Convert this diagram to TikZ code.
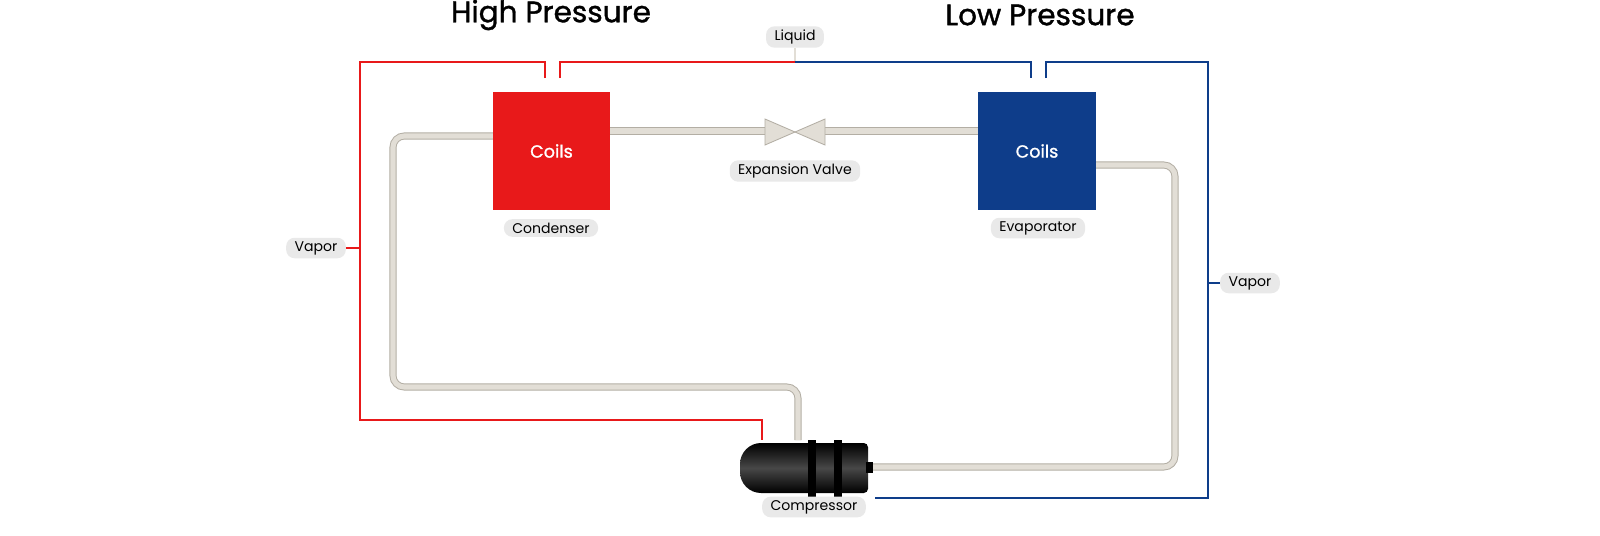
\documentclass[tikz,border=0pt]{standalone}
\usepackage{fontspec}
\setmainfont{Poppins}
\newfontfamily\medfont[FakeBold=1.2]{Poppins}
\definecolor{hred}{HTML}{E8191A}
\definecolor{lblue}{HTML}{0E3D8A}
\definecolor{pipein}{HTML}{E2DED6}
\definecolor{pipeout}{HTML}{B3AEA4}
\definecolor{pill}{HTML}{E9E9E9}
\begin{document}
\begin{tikzpicture}[x=0.025cm,y=-0.025cm,
  pipe/.style={double=pipein,draw=pipeout,line width=0.7pt,double distance=3.6pt,rounded corners=8},
  redl/.style={hred,line width=1.4pt},
  bluel/.style={lblue,line width=1.4pt},
  pilltag/.style={fill=pill,rounded corners=6pt,font=\fontsize{10}{12}\selectfont,inner xsep=6pt,inner ysep=2.5pt},
  coil/.style={minimum width=2.925cm,minimum height=2.95cm,inner sep=0pt,text=white,font=\medfont\fontsize{12.5}{14}\selectfont},
  title/.style={font=\medfont\fontsize{21}{24}\selectfont}]
\fill[white] (0,0) rectangle (1600,535);
\useasboundingbox (0,0) rectangle (1600,535);
% titles
\node[title] (th) at (551,15) {High Pressure};
\node[title] (tl) at (1040,15) {Low Pressure};
% pipes
\coordinate (cl) at (493,136);
\coordinate (cr) at (610,131);
\coordinate (el) at (978,131);
\coordinate (er) at (1096,165);
\coordinate (ct) at (798,440);
\coordinate (cpr) at (873,467);
\draw[pipe] (cl) -- (393,136) -- (393,387) -- (798,387) -- (ct);
\draw[pipe] (er) -- (1175,165) -- (1175,467) -- (cpr);
\draw[pipe] (cr) -- (765,131);
\draw[pipe] (825,131) -- (el);
% valve
\coordinate (valve) at (795,132);
\draw[pipeout,fill=pipein,line width=0.6pt] (765,119) -- (795,132) -- (765,145) -- cycle;
\draw[pipeout,fill=pipein,line width=0.6pt] (825,119) -- (795,132) -- (825,145) -- cycle;
% coils
\node[coil,fill=hred] (cond) at (551.5,151) {Coils};
\node[coil,fill=lblue] (evap) at (1037,151) {Coils};
% compressor
\shade[top color=black,bottom color=black,middle color=black!72!white,rounded corners=3pt]
  (868,443) -- (868,493) [rounded corners=15] -- (740,493) -- (740,443) [rounded corners=3pt] -- cycle;
\fill[black] (808,440) rectangle (816,498);
\fill[black] (834,440) rectangle (842,498);
\fill[black] (866,462) rectangle (873,473);
\node[pilltag] (comp) at (814,507) {Compressor};
% labels
\node[pilltag] (lcond) at (551,228) {Condenser};
\node[pilltag] (lval) at (795,171) {Expansion Valve};
\node[pilltag] (levap) at (1038,228) {Evaporator};
\node[pilltag] (lliq) at (795,37) {Liquid};
\node[pilltag] (vl) at (316,248) {Vapor};
\node[pilltag] (vr) at (1250,283) {Vapor};
% pressure lines
\coordinate (lj) at (795,62);
\draw[pipein,line width=1.2pt] (lliq) -- (lj);
\draw[redl] (545,78) -- (545,62) -- (360,62) -- (360,420) -- (762,420) -- (762,440);
\draw[redl] (560,78) -- (560,62) -- (lj);
\draw[bluel] (lj) -- (1031,62) -- (1031,78);
\draw[bluel] (1046,78) -- (1046,62) -- (1208,62) -- (1208,498) -- (875,498);
\draw[redl] (vl) -- (360,248);
\draw[bluel] (1208,283) -- (vr);
\end{tikzpicture}
\end{document}
